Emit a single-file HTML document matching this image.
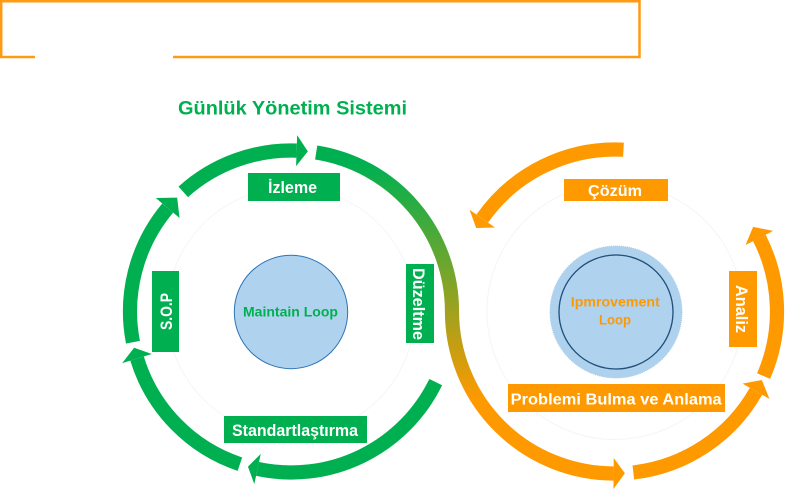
<!DOCTYPE html>
<html>
<head>
<meta charset="utf-8">
<style>
  html, body { margin: 0; padding: 0; background: #ffffff; }
  svg { display: block; }
  text { font-family: "Liberation Sans", "DejaVu Sans", sans-serif; font-weight: bold; }
</style>
</head>
<body>
<svg width="785" height="493" viewBox="0 0 785 493" xmlns="http://www.w3.org/2000/svg">
  <defs>
    <linearGradient id="g" gradientUnits="userSpaceOnUse" x1="0" y1="165" x2="0" y2="400">
      <stop offset="0" stop-color="#00B050"/>
      <stop offset="1" stop-color="#FF9900"/>
    </linearGradient>
  </defs>

  <!-- top orange frame with gap -->
  <path d="M35,57 H1.2 V1.2 H639.5 V57 H173" fill="none" stroke="#FF9A12" stroke-width="2.5"/>

  <!-- title -->
  <text x="178" y="114.5" font-size="19.5" textLength="229" lengthAdjust="spacingAndGlyphs" fill="#00B050">Günlük Yönetim Sistemi</text>

  <!-- faint inner circles -->
  <circle cx="291" cy="311.5" r="124" fill="none" stroke="#F5F5F5" stroke-width="1"/>
  <circle cx="615" cy="311.5" r="128" fill="none" stroke="#F5F5F5" stroke-width="1"/>

  <!-- LEFT RING (green) -->
  <g fill="none" stroke="#00B050" stroke-width="14.2" stroke-linecap="butt">
    <path d="M132.96,342.22 A161,161 0 0,1 167.67,208.01"/>
    <path d="M183.27,191.85 A161,161 0 0,1 296.62,150.60"/>
    <path d="M435.71,382.08 A161,161 0 0,1 257.53,468.98"/>
    <path d="M239.91,464.18 A161,161 0 0,1 137.04,358.57"/>
  </g>
  <g fill="#00B050">
    <polygon points="179.54,217.97 155.79,198.05 177.16,197.66"/>
    <polygon points="296.08,166.09 297.16,135.11 307.83,151.38"/>
    <polygon points="260.75,453.82 254.30,484.14 247.97,466.64"/>
    <polygon points="151.86,354.04 122.21,363.10 134.13,347.72"/>
  </g>

  <!-- S-curve gradient -->
  <path d="M316.19,152.48 A161,161 0 0,1 452,311.5 A162,162 0 0,0 613.59,473.49" fill="none" stroke="url(#g)" stroke-width="14.2" stroke-linecap="butt"/>
  <polygon points="613.72,457.99 613.45,488.99 624.89,473.2" fill="#FF9900"/>

  <!-- RIGHT RING (orange) -->
  <g fill="none" stroke="#FF9900" stroke-width="14.2" stroke-linecap="butt">
    <path d="M623.48,149.72 A162,162 0 0,0 482.30,218.58"/>
    <path d="M763.56,376.10 A162,162 0 0,0 759.34,237.95"/>
    <path d="M633.34,472.46 A162,162 0 0,0 756.0,391.27"/>
  </g>
  <g fill="#FF9900">
    <polygon points="495.00,227.47 469.60,209.69 476.14,228.06"/>
    <polygon points="745.53,244.99 773.15,230.92 753.13,226.85"/>
    <polygon points="742.51,383.64 769.49,398.90 761.82,379.96"/>
  </g>

  <!-- center circles -->
  <circle cx="291" cy="312" r="56.7" fill="#AFD2EE" stroke="#2E75B6" stroke-width="1"/>
  <text x="290.5" y="316.5" font-size="13.5" text-anchor="middle" textLength="95" lengthAdjust="spacingAndGlyphs" fill="#00B050">Maintain Loop</text>

  <circle cx="616" cy="312" r="66" fill="#AED1ED" stroke="#A9CDEB" stroke-width="1" stroke-dasharray="1,1"/>
  <circle cx="616" cy="312" r="57" fill="#AFD2EE" stroke="#1F4E79" stroke-width="1.3"/>
  <text x="615.3" y="306.5" font-size="13.5" text-anchor="middle" textLength="89" lengthAdjust="spacingAndGlyphs" fill="#FF9900">Ipmrovement</text>
  <text x="615" y="324.5" font-size="13.5" text-anchor="middle" textLength="32" lengthAdjust="spacingAndGlyphs" fill="#FF9900">Loop</text>

  <!-- green labels -->
  <rect x="248" y="173" width="92" height="28" fill="#00B050"/>
  <text x="292.5" y="193" font-size="17" text-anchor="middle" textLength="49" lengthAdjust="spacingAndGlyphs" fill="#ffffff">İzleme</text>

  <rect x="152" y="271" width="27" height="81" fill="#00B050"/>
  <text transform="translate(166,311.5) rotate(-90)" x="0" y="6" font-size="17" text-anchor="middle" textLength="37" lengthAdjust="spacingAndGlyphs" fill="#ffffff">S.O.P</text>

  <rect x="406" y="264" width="28" height="79" fill="#00B050"/>
  <text transform="translate(419,304) rotate(90)" x="0" y="6" font-size="17" text-anchor="middle" textLength="72" lengthAdjust="spacingAndGlyphs" fill="#ffffff">Düzeltme</text>

  <rect x="224" y="416" width="143" height="27" fill="#00B050"/>
  <text x="295" y="436" font-size="17" text-anchor="middle" textLength="126" lengthAdjust="spacingAndGlyphs" fill="#ffffff">Standartlaştırma</text>

  <!-- orange labels -->
  <rect x="564" y="179" width="104" height="22" fill="#FF9900"/>
  <text x="615" y="196" font-size="15.5" text-anchor="middle" textLength="54" lengthAdjust="spacingAndGlyphs" fill="#ffffff">Çözüm</text>

  <rect x="729" y="271" width="28" height="76" fill="#FF9900"/>
  <text transform="translate(742,309) rotate(90)" x="0" y="6" font-size="17" text-anchor="middle" textLength="48" lengthAdjust="spacingAndGlyphs" fill="#ffffff">Analiz</text>

  <rect x="508" y="384" width="217" height="28" fill="#FF9900"/>
  <text x="616.2" y="404.5" font-size="16" text-anchor="middle" textLength="211" lengthAdjust="spacingAndGlyphs" fill="#ffffff">Problemi Bulma ve Anlama</text>
</svg>
</body>
</html>
